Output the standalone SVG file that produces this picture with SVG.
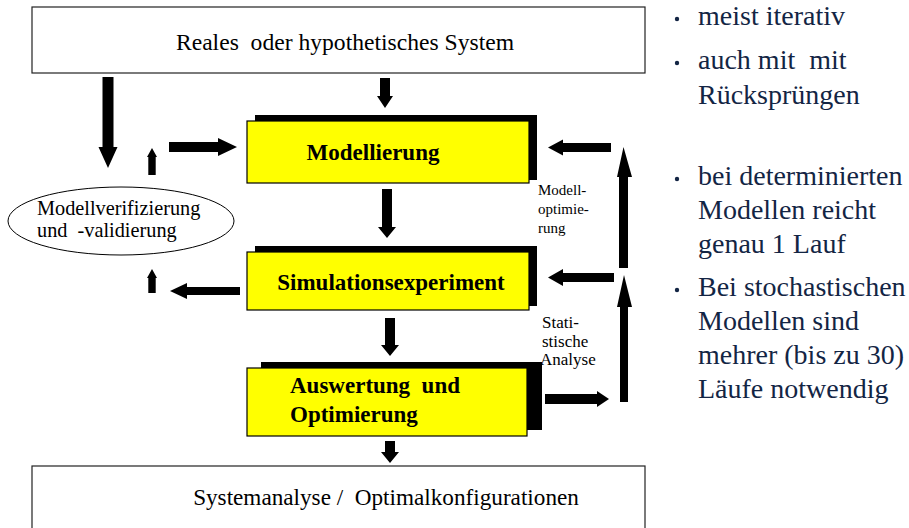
<svg xmlns="http://www.w3.org/2000/svg" width="909" height="528" viewBox="0 0 909 528">
<style>
.box{fill:#fff;stroke:#222;stroke-width:1.2}
.shadow{fill:#000}
.yel{fill:#ffff00;stroke:#000;stroke-width:1.2}
.t{font-family:"Liberation Serif","Times New Roman",serif;fill:#000}
.b{font-weight:bold;font-size:23px}
.arr{fill:#000}
.side{font-family:"Liberation Serif","Times New Roman",serif;font-size:28px;fill:#132544}
.dot{fill:#132544}
</style>
<rect width="909" height="528" fill="#fff"/>
<g id="real-system">
<rect class="box" x="32" y="7" width="613" height="66"/>
<text class="t" x="345" y="50" font-size="23.6" text-anchor="middle" xml:space="preserve">Reales  oder hypothetisches System</text>
</g>
<g id="modellierung">
<rect class="shadow" x="255" y="115" width="282" height="65"/>
<rect class="yel" x="247" y="121" width="282" height="62"/>
<text class="t b" x="373" y="160" text-anchor="middle">Modellierung</text>
</g>
<g id="simulation">
<rect class="shadow" x="255" y="246" width="282" height="60"/>
<rect class="yel" x="247" y="252" width="282" height="58"/>
<text class="t b" x="391" y="290" text-anchor="middle">Simulationsexperiment</text>
</g>
<g id="auswertung">
<rect class="shadow" x="261" y="362" width="281" height="68"/>
<rect class="yel" x="247" y="368" width="280" height="68"/>
<text class="t b" x="290" y="393" xml:space="preserve">Auswertung  und</text>
<text class="t b" x="290" y="422">Optimierung</text>
</g>
<g id="verifizierung">
<ellipse cx="121" cy="221" rx="113" ry="34" fill="#fff" stroke="#000" stroke-width="1"/>
<text class="t" x="37" y="215" font-size="20.3">Modellverifizierung</text>
<text class="t" x="37" y="237" font-size="20.3" xml:space="preserve">und  -validierung</text>
</g>
<g id="systemanalyse">
<rect class="box" x="32" y="466" width="613" height="70"/>
<text class="t" x="386" y="505" font-size="23.2" text-anchor="middle" xml:space="preserve">Systemanalyse /  Optimalkonfigurationen</text>
</g>
<g id="connectors">
<polygon class="arr" points="102.5,77 113.5,77 113.5,147 117.5,147 108,168 98.5,147 102.5,147"/>
<polygon class="arr" points="380,78 390,78 390,96 393,96 385,108 377,96 380,96"/>
<polygon class="arr" points="382,189 392,189 392,227 396,227 387,238 378,227 382,227"/>
<polygon class="arr" points="385,318 395,318 395,345 399,345 390,356 381,345 385,345"/>
<polygon class="arr" points="385,441 395,441 395,452 399,452 390,463 381,452 385,452"/>
<polygon class="arr" points="148.3,175 155.7,175 155.7,157 157,157 152,148 147,157 148.3,157"/>
<polygon class="arr" points="148.3,293 155.7,293 155.7,278 157,278 152,269 147,278 148.3,278"/>
<polygon class="arr" points="169,142 218,142 218,138 237,147 218,156 218,152 169,152"/>
<polygon class="arr" points="240,287 187,287 187,283 170,291 187,299 187,295 240,295"/>
<polygon class="arr" points="611,143 563,143 563,139.5 548,147.5 563,155.5 563,152 611,152"/>
<polygon class="arr" points="614,273 563,273 563,269 548,277.5 563,286 563,282 614,282"/>
<polygon class="arr" points="619,268 628,268 628,177 632,177 623.5,147 617,177 619,177"/>
<polygon class="arr" points="620,402 628,402 628,307 632,307 624,275 617,307 620,307"/>
<polygon class="arr" points="545,394 597,394 597,391 609,399 597,407 597,404 545,404"/>
</g>
<g id="label-modelloptimierung">
<text class="t" font-size="15" x="538" y="195">Modell-</text>
<text class="t" font-size="15" x="538" y="214">optimie-</text>
<text class="t" font-size="15" x="538" y="233">rung</text>
</g>
<g id="label-statistik">
<text class="t" font-size="17" x="542" y="328">Stati-</text>
<text class="t" font-size="17" x="542" y="347">stische</text>
<text class="t" font-size="17" x="540" y="365">Analyse</text>
</g>
<g id="notes">
<circle class="dot" cx="677" cy="19" r="2.2"/>
<circle class="dot" cx="677" cy="63" r="2.2"/>
<circle class="dot" cx="677" cy="179" r="2.2"/>
<circle class="dot" cx="677" cy="290" r="2.2"/>
<text class="side" x="698" y="25">meist iterativ</text>
<text class="side" x="698" y="69" xml:space="preserve">auch mit  mit</text>
<text class="side" x="698" y="104">Rücksprüngen</text>
<text class="side" x="698" y="185">bei determinierten</text>
<text class="side" x="698" y="219">Modellen reicht</text>
<text class="side" x="698" y="253">genau 1 Lauf</text>
<text class="side" x="698" y="296">Bei stochastischen</text>
<text class="side" x="698" y="330">Modellen sind</text>
<text class="side" x="698" y="364">mehrer (bis zu 30)</text>
<text class="side" x="698" y="398">Läufe notwendig</text>
</g>
</svg>
